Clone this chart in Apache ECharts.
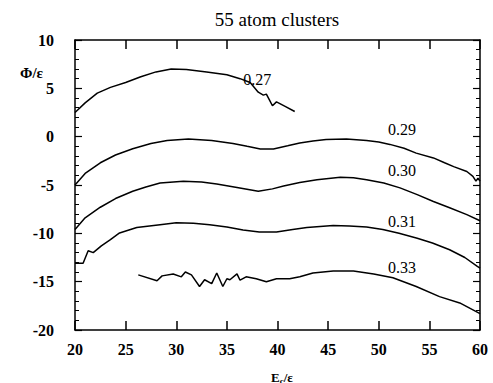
<!DOCTYPE html>
<html><head><meta charset="utf-8">
<script src="https://cdn.jsdelivr.net/npm/echarts@6/dist/echarts.min.js"></script>
<style>html,body{margin:0;padding:0;background:#fff}#c{width:493px;height:383px}</style>
</head><body><div id="c"></div>
<script>
var title = '55 atom clusters';
var xTicks = [20, 25, 30, 35, 40, 45, 50, 55, 60];
var yTicks = [-20, -15, -10, -5, 0, 5, 10];
var seriesNames = ['0.27', '0.29', '0.30', '0.31', '0.33'];

var s027 = [[20,2.5],[21,3.5],[22.2,4.5],[23.5,5.1],[25,5.6],[26.5,6.2],[28,6.7],[29.5,7.0],[31,6.95],[33,6.7],[35,6.4],[36.3,6.0],[37.3,5.6],[38.1,4.6],[38.6,4.3],[38.9,4.4],[39.2,3.8],[39.5,3.2],[39.9,3.6],[40.8,3.1],[41.7,2.6]];
var s029 = [[20,-5.0],[21,-3.8],[22.5,-2.7],[24,-1.9],[25.7,-1.25],[27.5,-0.7],[29.1,-0.4],[31.2,-0.25],[33.5,-0.4],[35.6,-0.7],[37,-1.0],[38.3,-1.27],[39.6,-1.27],[41,-0.95],[42.2,-0.65],[43.5,-0.45],[44.8,-0.3],[46.8,-0.25],[48.8,-0.4],[50,-0.55],[51.1,-0.8],[52.5,-1.2],[53.7,-1.7],[55.4,-2.2],[56.5,-2.7],[57.4,-3.1],[58.7,-3.6],[59.3,-4.1],[59.6,-4.6],[59.8,-4.3],[60,-4.6]];
var s030 = [[20,-9.6],[21,-8.4],[22.5,-7.3],[24,-6.4],[25.7,-5.65],[27,-5.2],[28.4,-4.8],[30.7,-4.6],[32.5,-4.7],[34,-4.9],[36,-5.25],[38.1,-5.65],[39.5,-5.4],[40.6,-5.1],[42.2,-4.75],[43.9,-4.45],[46.2,-4.2],[47.5,-4.25],[48.8,-4.45],[50.5,-4.8],[52.1,-5.3],[53.8,-6.0],[55.4,-6.7],[57,-7.35],[58.7,-8.07],[60,-8.7]];
var s031 = [[20,-13.1],[20.8,-13.1],[21.3,-11.8],[21.8,-12.0],[22.6,-11.3],[23.5,-10.65],[24.4,-9.96],[26.1,-9.4],[28.4,-9.1],[30,-8.9],[31.7,-8.95],[33.3,-9.1],[35,-9.35],[36.6,-9.65],[38.2,-9.85],[39.9,-9.85],[41.5,-9.6],[42.9,-9.4],[45.5,-9.2],[47.1,-9.25],[48.8,-9.35],[50.4,-9.6],[52,-10.0],[53.8,-10.5],[55.3,-11.0],[57,-11.7],[58.5,-12.5],[59.7,-13.4],[60,-13.6]];
var s033 = [[26.25,-14.3],[28.1,-14.9],[28.6,-14.4],[29.7,-14.2],[30.5,-14.5],[30.9,-14.0],[31.5,-14.3],[32.3,-15.5],[32.8,-14.8],[33.5,-15.2],[34,-14.1],[34.6,-15.5],[35,-14.7],[35.3,-14.8],[36,-14.2],[36.3,-14.85],[36.9,-14.5],[37.9,-14.7],[38.9,-15.0],[39.9,-14.7],[41.2,-14.7],[42.2,-14.5],[43.5,-14.1],[45.5,-13.9],[47.5,-13.9],[49.5,-14.2],[51.4,-14.6],[53.7,-15.5],[56,-16.55],[58,-17.2],[60,-18.3]];
var allData = [s027, s029, s030, s031, s033];

var labelAt = [[38.0,5.9],[52.3,0.7],[52.3,-3.5],[52.3,-8.8],[52.3,-13.5]];

var serif = 'serif';
function xAxisDef(pos, showLabel){
  return {
    type:'value', min:20, max:60, interval:5, position:pos,
    axisLine:{show:true, onZero:false, lineStyle:{color:'#000', width:1.5}},
    axisTick:{show:true, inside:true, length:9, lineStyle:{color:'#000', width:1.5}},
    splitLine:{show:false},
    axisLabel:{show:showLabel, color:'#000', fontFamily:serif, fontWeight:'bold', fontSize:16, margin:11,
      formatter:function(v){return xTicks.indexOf(v)>=0?String(v):'';}}
  };
}
function yAxisDef(pos, showLabel){
  return {
    type:'value', min:-20, max:10, interval:5, position:pos,
    axisLine:{show:true, onZero:false, lineStyle:{color:'#000', width:1.5}},
    axisTick:{show:true, inside:true, length:7, lineStyle:{color:'#000', width:1.2}},
    minorTick:{show:true, splitNumber:5, length:4, lineStyle:{color:'#000', width:1}},
    splitLine:{show:false},
    axisLabel:{show:showLabel, color:'#000', fontFamily:serif, fontWeight:'bold', fontSize:16, margin:21,
      formatter:function(v){return yTicks.indexOf(v)>=0?String(v):'';}}
  };
}
var series = allData.map(function(d, i){
  return {
    type:'line', name:seriesNames[i], data:d, symbol:'none',
    lineStyle:{color:'#000', width:1.5},
    markPoint:{
      symbol:'circle', symbolSize:0,
      label:{show:true, formatter:seriesNames[i], color:'#000', fontFamily:serif, fontSize:16, position:'inside'},
      data:[{coord:labelAt[i]}]
    }
  };
});
var option = {
  animation:false,
  title:{text:title, left:272, textAlign:'center', top:5, textStyle:{fontFamily:serif, fontSize:19, fontWeight:'normal', color:'#000'}},
  grid:{left:75, right:13, top:40, bottom:53},
  xAxis:[xAxisDef('bottom', true), xAxisDef('top', false)],
  yAxis:[yAxisDef('left', true), yAxisDef('right', false)],
  graphic:[
    {type:'text', left:20, top:65, style:{text:'Φ/ε', fontFamily:serif, fontWeight:'bold', fontSize:15, fill:'#000'}},
    {type:'text', left:271, top:371, style:{text:'{e|E}{s|c}{e|/ε}', rich:{e:{fontFamily:serif, fontWeight:'bold', fontSize:13, fill:'#000'}, s:{fontFamily:serif, fontWeight:'bold', fontSize:9, fill:'#000', padding:[6,0,0,0]}}}}
  ],
  series:series
};

var chart = echarts.init(document.getElementById('c'), null, {renderer:'svg'});
chart.setOption(option);
</script></body></html>
